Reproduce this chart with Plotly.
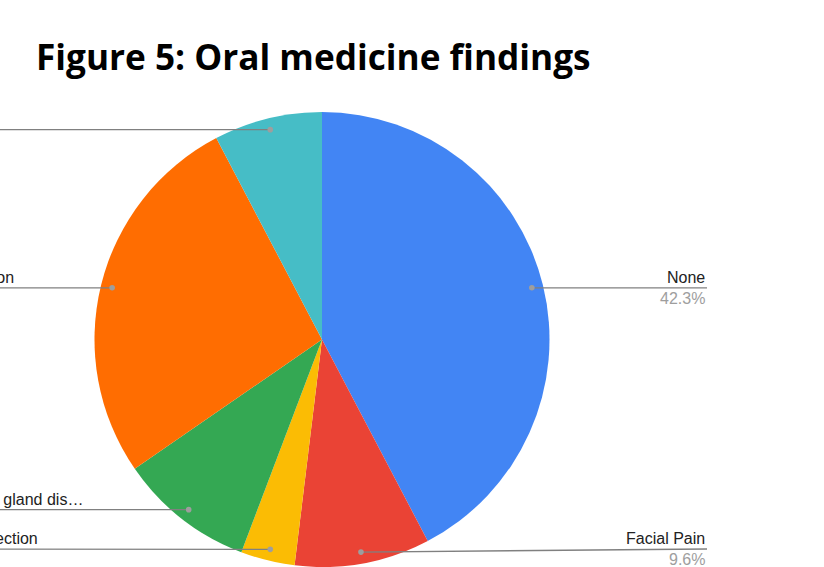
import math
import plotly.graph_objects as go

# ---- data ----
categories = ["None", "Facial Pain", "Viral infection", "Salivary gland disorder", "Ulceration", "Other"]
counts = [22, 5, 2, 5, 14, 4]
colors = ["#4285F4", "#EA4335", "#FBBC04", "#34A853", "#FF6D01", "#46BDC6"]
title_text = "Figure 5: Oral medicine findings"

# ---- layout geometry (pixels) ----
W, H = 824, 567
CX, CY, R = 322.0, 339.5, 227.5
RIGHT_EDGE = 707
LEFT_EDGE = -60
MAX_CHARS = 18


def px(x):
    return x / W


def py(y):
    return 1 - y / H


fig = go.Figure(go.Pie(
    labels=categories,
    values=counts,
    sort=False,
    direction="clockwise",
    rotation=0,
    marker=dict(colors=colors, line=dict(width=0)),
    textinfo="none",
    hoverinfo="label+percent",
    showlegend=False,
    domain=dict(x=[px(CX - R), px(CX + R)], y=[py(CY + R), py(CY - R)]),
))

total = sum(counts)
shapes = []
annotations = []
cum = 0
for name, v in zip(categories, counts):
    mid = math.radians((cum + v / 2) / total * 360)
    cum += v
    dx = CX + 0.95 * R * math.sin(mid)
    dy = CY - 0.95 * R * math.cos(mid)
    line_y = min(dy, H - 18)
    pct = f"{v / total * 100:.1f}%"
    disp = name if len(name) <= MAX_CHARS + 1 else name[:MAX_CHARS] + "…"
    right = math.sin(mid) > 0
    ex = RIGHT_EDGE if right else LEFT_EDGE
    anchor = "right" if right else "left"
    shapes.append(dict(type="line", xref="paper", yref="paper",
                       x0=px(dx), y0=py(dy), x1=px(ex), y1=py(line_y),
                       line=dict(color="#808080", width=1.3)))
    shapes.append(dict(type="circle", xref="paper", yref="paper",
                       x0=px(dx - 2.8), x1=px(dx + 2.8), y0=py(dy + 2.8), y1=py(dy - 2.8),
                       fillcolor="#9e9e9e", line=dict(width=0)))
    annotations.append(dict(xref="paper", yref="paper", x=px(ex), y=py(line_y - 10.5),
                            xanchor=anchor, yanchor="middle", showarrow=False, text=disp,
                            font=dict(family="Arial, Liberation Sans", size=16, color="#222222")))
    annotations.append(dict(xref="paper", yref="paper", x=px(ex), y=py(line_y + 10.5),
                            xanchor=anchor, yanchor="middle", showarrow=False, text=pct,
                            font=dict(family="Arial, Liberation Sans", size=16, color="#9e9e9e")))

annotations.append(dict(xref="paper", yref="paper", x=px(34), y=py(56),
                        xanchor="left", yanchor="middle", showarrow=False,
                        text="<b>" + title_text + "</b>",
                        font=dict(family="Open Sans", size=35.2, color="#000000")))

fig.update_layout(
    width=W, height=H,
    margin=dict(l=0, r=0, t=0, b=0),
    paper_bgcolor="white", plot_bgcolor="white",
    shapes=shapes, annotations=annotations,
)

fig.write_html("out.html", config={"displayModeBar": False},
               post_script="document.body.style.margin='0';document.body.style.overflow='hidden';")
